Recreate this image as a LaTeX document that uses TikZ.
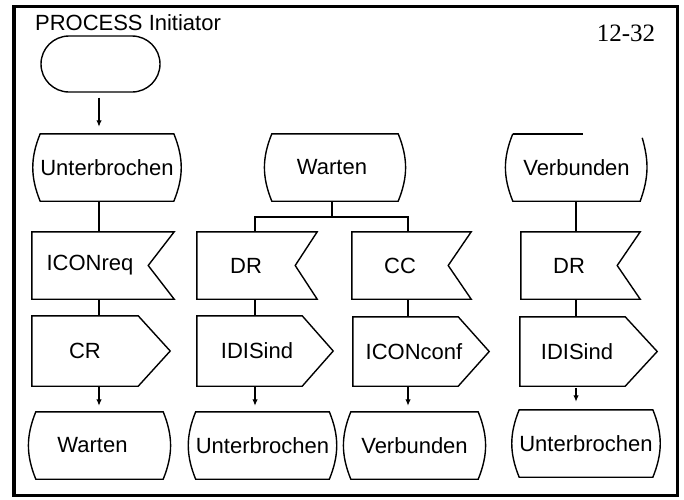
\documentclass[tikz,border=0pt]{standalone}
\usepackage{fontspec}
\setmainfont{Liberation Sans}
\newfontfamily\seriffont{Liberation Serif}
\usetikzlibrary{arrows.meta,calc}
\tikzset{
  shp/.style={line width=1.4pt, line join=miter},
  body/.style={rectangle, inner sep=0pt, minimum height=67pt, font=\fontsize{22}{26}\selectfont},
  con/.style={line width=1.3pt},
  arr/.style={con, -{Latex[length=6.5pt,width=5.5pt]}},
}
\newcommand\stateshape[1]{\draw[shp] (#1.north west) -- (#1.north east) to[bend left=22] (#1.south east) -- (#1.south west) to[bend left=22] (#1.north west) -- (#1.north east);}
\newcommand\inshape[2]{\draw[shp] (#1.north west) -- ($(#1.north east)+(#2,0)$) -- (#1.east) -- ($(#1.south east)+(#2,0)$) -- (#1.south west) -- cycle;}
\newcommand\outshape[3]{\draw[shp] (#1.north west) -- ($(#1.north east)-(#2,0)$) -- ($(#1.east)+(#3,0)$) -- ($(#1.south east)-(#2,0)$) -- (#1.south west) -- cycle;}
\begin{document}
\begin{tikzpicture}[x=1pt,y=-1pt]
\useasboundingbox (0,0) rectangle (684,499);
\draw[line width=3.5pt] (14,6.5) rectangle (677.5,495.5);
\node[font=\fontsize{22}{26}\selectfont] (title) at (128,23) {PROCESS Initiator};
\node[font=\seriffont\fontsize{25}{28}\selectfont] (page) at (626,33) {12-32};
% connector columns
\coordinate (c1) at (99,0);
\coordinate (c2) at (255,0);
\coordinate (c3) at (408,0);
\coordinate (c4) at (576,0);
\coordinate (j) at (332,217);
% start
\node[draw, shp, rectangle, rounded corners=28pt, minimum width=119pt, minimum height=56pt] (st) at (100.5,64) {};
% column 1
\node[body, minimum width=128pt] (s1) at (107,167.5) {Unterbrochen};
\node[body, minimum width=116pt] (i1) at (90,265.5) {ICONreq};
\node[body, minimum width=106pt, minimum height=70pt] (o1) at (85,351) {CR};
\node[body, minimum width=127pt] (s2) at (99.5,445.5) {\hspace*{-14pt}Warten};
% column 2/3
\node[body, minimum width=126pt] (s3) at (335,167.5) {\hspace*{-6pt}Warten};
\node[body, minimum width=98pt] (i2) at (246,265.5) {DR};
\node[body, minimum width=120pt, minimum height=70pt] (o2) at (257,351) {IDISind};
\node[body, minimum width=131pt] (s4) at (262.5,445.5) {Unterbrochen};
\node[body, minimum width=96pt] (i3) at (400,265.5) {CC};
\node[body, minimum width=122pt, minimum height=69pt] (o3) at (414,351.5) {ICONconf};
\node[body, minimum width=127pt] (s5) at (414.5,445.5) {Verbunden};
% column 4
\node[body, minimum width=127pt] (s6) at (576.5,167.5) {Verbunden};
\node[body, minimum width=96pt] (i4) at (569,265.5) {DR};
\node[body, minimum width=114pt, minimum height=69pt] (o4) at (577,351.5) {IDISind};
\node[body, minimum width=128pt] (s7) at (586,443.5) {Unterbrochen};
% outlines
\stateshape{s1}
\inshape{i1}{26}
\outshape{o1}{0}{32}
\stateshape{s2}
\stateshape{s3}
\inshape{i2}{22}
\outshape{o2}{15}{16}
\stateshape{s4}
\inshape{i3}{23}
\outshape{o3}{17}{14}
\stateshape{s5}
\draw[shp] (s6.north west) -- ($(s6.north west)+(70,0)$);
\draw[shp] ($(s6.north east)+(2,4)$) to[bend left=18] (s6.south east) -- (s6.south west) to[bend left=22] (s6.north west);
\inshape{i4}{23}
\outshape{o4}{9}{23}
\stateshape{s7}
% connectors
\draw[arr, shorten <=5pt, shorten >=7pt] (st.south -| c1) -- (s1.north -| c1);
\draw[con] (s1.south -| c1) -- (i1.north -| c1);
\draw[con] (i1.south -| c1) -- (o1.north -| c1);
\draw[arr, shorten >=6pt] (o1.south -| c1) -- (s2.north -| c1);
\draw[con] (s3.south -| j) -- (j) -| (i2.north -| c2);
\draw[con] (j) -| (i3.north -| c3);
\draw[con] (i2.south -| c2) -- (o2.north -| c2);
\draw[arr, shorten >=6pt] (o2.south -| c2) -- (s4.north -| c2);
\draw[con] (i3.south -| c3) -- (o3.north -| c3);
\draw[arr, shorten >=6pt] (o3.south -| c3) -- (s5.north -| c3);
\draw[con] (s6.south -| c4) -- (i4.north -| c4);
\draw[con] (i4.south -| c4) -- (o4.north -| c4);
\draw[arr, shorten <=2pt, shorten >=8pt] (o4.south -| c4) -- (s7.north -| c4);
\end{tikzpicture}
\end{document}
